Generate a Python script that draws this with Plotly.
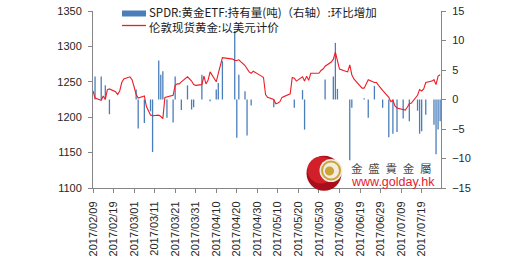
import plotly.graph_objects as go

# ---------------- data ----------------
gold_dates = (
    ["2017-02-%02d" % d for d in [9, 10, 13, 14, 15, 16, 17, 20, 21, 22, 23, 24, 27, 28]]
    + ["2017-03-%02d" % d for d in [1, 2, 3, 6, 7, 8, 9, 10, 13, 14, 15, 16, 17, 20, 21, 22, 23, 24, 27, 28, 29, 30, 31]]
    + ["2017-04-%02d" % d for d in [3, 4, 5, 6, 7, 10, 11, 12, 13, 18, 19, 20, 21, 24, 25, 26, 27, 28]]
    + ["2017-05-%02d" % d for d in [2, 3, 4, 5, 8, 9, 10, 11, 12, 15, 16, 17, 18, 19, 22, 23, 24, 25, 26, 30, 31]]
    + ["2017-06-%02d" % d for d in [1, 2, 5, 6, 7, 8, 9, 12, 13, 14, 15, 16, 19, 20, 21, 22, 23, 26, 27, 28, 29, 30]]
    + ["2017-07-%02d" % d for d in [3, 4, 5, 6, 7, 10, 11, 12, 13, 14, 17, 18, 19, 20, 21, 24, 25, 26, 27, 28]]
)
gold_price = (
    [1237, 1227, 1224, 1230, 1225, 1239, 1240, 1236, 1232, 1237, 1249, 1254, 1257, 1253]
    + [1243, 1232, 1227, 1230, 1215, 1209, 1203, 1202, 1203, 1201, 1198, 1228, 1229, 1231, 1245, 1247, 1247, 1250, 1257, 1254, 1251, 1246, 1245]
    + [1246, 1258, 1247, 1252, 1264, 1250, 1262, 1272, 1284, 1282, 1280, 1280, 1281, 1273, 1269, 1264, 1262, 1265]
    + [1258, 1256, 1232, 1228, 1225, 1219, 1220, 1222, 1228, 1232, 1233, 1256, 1255, 1251, 1257, 1251, 1258, 1252, 1262, 1262, 1266]
    + [1268, 1272, 1278, 1282, 1292, 1280, 1268, 1265, 1264, 1274, 1260, 1254, 1245, 1241, 1241, 1247, 1253, 1249, 1249, 1245, 1241, 1238]
    + [1228, 1222, 1224, 1216, 1213, 1210, 1210, 1214, 1219, 1220, 1231, 1239, 1237, 1240, 1249, 1251, 1253, 1246, 1258, 1260]
)

etf_dates = [
    "2017-02-10", "2017-02-13", "2017-02-15", "2017-02-17",
    "2017-03-02", "2017-03-03", "2017-03-06", "2017-03-09", "2017-03-10",
    "2017-03-13", "2017-03-14", "2017-03-15", "2017-03-17", "2017-03-20",
    "2017-03-21", "2017-03-24", "2017-03-27", "2017-03-29", "2017-03-30",
    "2017-04-03", "2017-04-07", "2017-04-10", "2017-04-11", "2017-04-13",
    "2017-04-19", "2017-04-20", "2017-04-21", "2017-04-24", "2017-04-25",
    "2017-04-27", "2017-05-08", "2017-05-18", "2017-05-22", "2017-05-23",
    "2017-06-02", "2017-06-06", "2017-06-07", "2017-06-08", "2017-06-14",
    "2017-06-15", "2017-06-21", "2017-06-23", "2017-06-26", "2017-06-30",
    "2017-07-03", "2017-07-05", "2017-07-07", "2017-07-10", "2017-07-13",
    "2017-07-17", "2017-07-18", "2017-07-19", "2017-07-21", "2017-07-25",
    "2017-07-26", "2017-07-27", "2017-07-28",
]
etf_change = [
    3.9, 3.9, 2.4, -2.5,
    1.7, -4.9, -4.0, -2.0, -8.9,
    6.6, 4.2, 4.8, -3.1, -3.9,
    3.9, -1.8, 2.4, -1.7, -1.3,
    4.2, -0.3, 1.7, 2.8, 6.5,
    11.6, -6.5, 4.2, 1.4, -6.1,
    -1.0, -1.3, -1.4, 1.6, -5.1,
    3.4, 3.9, 9.6, 1.8, -10.3,
    -1.4, 0.2, -3.1, 2.3, -1.4,
    -6.4, -5.8, -5.5, -3.2, -3.7,
    -1.9, -5.8, -5.4, -2.6, -4.3,
    -9.3, -5.1, -3.7,
]

left_ticks = [1100, 1150, 1200, 1250, 1300, 1350]
right_ticks = [-15, -10, -5, 0, 5, 10, 15]

legend_bar = "SPDR:黄金ETF:持有量(吨)（右轴）:环比增加"
legend_line = "伦敦现货黄金:以美元计价"
wm_name = "\u2002".join("金盛貴金屬")
wm_url = "www.golday.hk"

# ---------------- layout helpers ----------------
W, H = 517, 259
L, R, T, B = 93, 441, 11, 188


def px(x):
    return (x - L) / (R - L)


def py(y):
    return (B - y) / (B - T)


BAR_COLOR = "#4A7EBB"
LINE_COLOR = "#EE1C25"
AXIS_COLOR = "#868686"
TXT = "#262626"
FONT = "Liberation Sans, Arial, sans-serif"
CJK = "Noto Sans CJK SC, sans-serif"

# thin bars drawn as vertical stems from zero to each value
stem_x, stem_y = [], []
for d, v in zip(etf_dates, etf_change):
    stem_x += [d, d, None]
    stem_y += [0, v, None]

fig = go.Figure()
fig.add_trace(go.Scatter(
    x=stem_x, y=stem_y, yaxis="y", mode="lines",
    line=dict(color=BAR_COLOR, width=1.3), name=legend_bar,
))
fig.add_trace(go.Scatter(
    x=gold_dates, y=gold_price, yaxis="y2", mode="lines",
    line=dict(color=LINE_COLOR, width=1.1), name=legend_line,
))

axis_common = dict(
    showgrid=False, zeroline=False, showline=True, linecolor=AXIS_COLOR,
    linewidth=1, ticks="outside", ticklen=4, tickcolor=AXIS_COLOR,
    tickfont=dict(family=FONT, size=11, color=TXT), automargin=False,
)

fig.update_layout(
    width=W, height=H, autosize=False,
    margin=dict(l=L, r=W - R, t=T, b=H - B, pad=0),
    paper_bgcolor="white", plot_bgcolor="white",
    showlegend=False,
    xaxis=dict(
        type="date", range=["2017-02-09", "2017-07-28 10:00"],
        tick0="2017-02-09", dtick=10 * 86400000, tickformat="%Y/%m/%d",
        tickangle=-90, ticklabelstandoff=4, **axis_common,
    ),
    yaxis=dict(
        side="right", range=[-15, 15], tickvals=right_ticks,
        ticklabelstandoff=4, **axis_common,
    ),
    yaxis2=dict(
        side="left", overlaying="y", range=[1100, 1350], tickvals=left_ticks,
        ticklabelstandoff=4, **axis_common,
    ),
)

shapes = []
annotations = []

# manual legend
shapes.append(dict(type="rect", xref="paper", yref="paper",
                   x0=px(122), x1=px(146), y0=py(16.5), y1=py(10.5),
                   fillcolor=BAR_COLOR, line=dict(width=0)))
shapes.append(dict(type="line", xref="paper", yref="paper",
                   x0=px(122), x1=px(146), y0=py(25.5), y1=py(25.5),
                   line=dict(color=LINE_COLOR, width=1.3)))
annotations.append(dict(xref="paper", yref="paper", x=px(147), y=py(12),
                        xanchor="left", yanchor="middle", showarrow=False,
                        text=legend_bar, font=dict(family=CJK, size=11.5, color="#1a1a1a")))
annotations.append(dict(xref="paper", yref="paper", x=px(147), y=py(26.5),
                        xanchor="left", yanchor="middle", showarrow=False,
                        text=legend_line, font=dict(family=CJK, size=11.5, color="#1a1a1a")))


def circ(cx, cy, r, **kw):
    d = dict(type="circle", xref="paper", yref="paper",
             x0=px(cx - r), x1=px(cx + r), y0=py(cy + r), y1=py(cy - r), layer="above")
    d.update(kw)
    return d


# watermark logo
shapes.append(circ(324, 173.3, 17.5, fillcolor="#A90F1A", line=dict(width=0)))
shapes.append(circ(321, 170, 13.5, fillcolor="#D2202A", line=dict(width=0)))
shapes.append(circ(331, 170.5, 11.5, fillcolor="#F3EBDD", line=dict(width=0)))
shapes.append(circ(331, 170.5, 9, fillcolor="rgba(0,0,0,0)", line=dict(color="#C9A43A", width=2)))
shapes.append(circ(329.5, 171, 4.6, fillcolor="#C9A43A", line=dict(width=0)))

annotations.append(dict(xref="paper", yref="paper", x=px(349), y=py(167.5),
                        xanchor="left", yanchor="middle", showarrow=False,
                        text=wm_name, font=dict(family="Noto Sans CJK TC, sans-serif", size=11.5, color="#4a4a4a")))
annotations.append(dict(xref="paper", yref="paper", x=px(349), y=py(182),
                        xanchor="left", yanchor="middle", showarrow=False,
                        text=wm_url, font=dict(family=FONT, size=12.5, color="#E4202E")))

fig.update_layout(shapes=shapes, annotations=annotations)
fig.write_html("out.html")
